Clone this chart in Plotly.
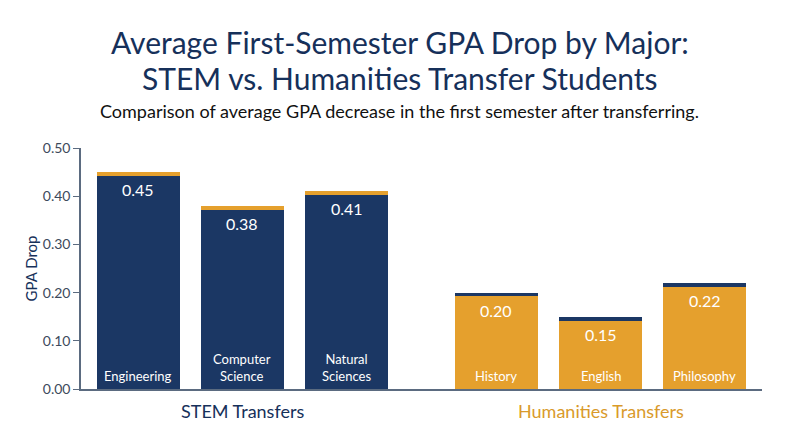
import plotly.graph_objects as go

# DATA
stem_majors = ["Engineering", "Computer<br>Science", "Natural<br>Sciences"]
stem_drop = [0.45, 0.38, 0.41]
hum_majors = ["History", "English", "Philosophy"]
hum_drop = [0.20, 0.15, 0.22]
stem_pos = [0, 1, 2]
hum_pos = [3.44, 4.44, 5.44]
y_ticks = [0.0, 0.1, 0.2, 0.3, 0.4, 0.5]

NAVY = "#1b3764"
ORANGE = "#e5a02d"
TEXT = "#16305a"
CAP = 0.008
FONT = "Lato"
PAGE_MID = 0.468  # page centre in paper coords

fig = go.Figure()

# main bars
fig.add_trace(go.Bar(
    x=stem_pos, y=[v - CAP for v in stem_drop], width=0.8,
    marker=dict(color=NAVY, line=dict(width=0)), hoverinfo="skip"
))
fig.add_trace(go.Bar(
    x=hum_pos, y=[v - CAP for v in hum_drop], width=0.8,
    marker=dict(color=ORANGE, line=dict(width=0)), hoverinfo="skip"
))

# thin contrasting caps on top
fig.add_trace(go.Bar(
    x=stem_pos, y=[CAP] * 3, base=[v - CAP for v in stem_drop], width=0.8,
    marker=dict(color=ORANGE, line=dict(width=0)), hoverinfo="skip"
))
fig.add_trace(go.Bar(
    x=hum_pos, y=[CAP] * 3, base=[v - CAP for v in hum_drop], width=0.8,
    marker=dict(color=NAVY, line=dict(width=0)), hoverinfo="skip"
))

# labels inside the bars
for xs, vals, names in [(stem_pos, stem_drop, stem_majors), (hum_pos, hum_drop, hum_majors)]:
    for x, v, n in zip(xs, vals, names):
        fig.add_annotation(x=x, y=v, text=f"{v:.2f}", showarrow=False,
                           yanchor="top", yshift=-6,
                           font=dict(family=FONT, size=16, color="white"))
        fig.add_annotation(x=x, y=0, text=n, showarrow=False,
                           yanchor="bottom", yshift=3,
                           font=dict(family=FONT, size=13, color="white"))

# group labels
fig.add_annotation(x=sum(stem_pos) / 3, yref="paper", y=-0.091, text="STEM Transfers",
                   showarrow=False, yanchor="middle",
                   font=dict(family=FONT, size=18, color=TEXT))
fig.add_annotation(x=sum(hum_pos) / 3, yref="paper", y=-0.091, text="Humanities Transfers",
                   showarrow=False, yanchor="middle",
                   font=dict(family=FONT, size=18, color="#d99a2b"))

# title (two lines) and subtitle
fig.add_annotation(xref="paper", yref="paper", x=PAGE_MID, y=1.44,
                   xanchor="center", yanchor="middle", showarrow=False,
                   text="Average First-Semester GPA Drop by Major:",
                   font=dict(family=FONT, size=30, color=TEXT))
fig.add_annotation(xref="paper", yref="paper", x=PAGE_MID, y=1.29,
                   xanchor="center", yanchor="middle", showarrow=False,
                   text="STEM vs. Humanities Transfer Students",
                   font=dict(family=FONT, size=30, color=TEXT))
fig.add_annotation(xref="paper", yref="paper", x=PAGE_MID, y=1.154,
                   xanchor="center", yanchor="middle", showarrow=False,
                   text="Comparison of average GPA decrease in the first semester after transferring.",
                   font=dict(family=FONT, size=18, color="#111111"))

fig.update_layout(
    width=800, height=447,
    margin=dict(l=73, r=46, t=140, b=66),
    barmode="overlay",
    showlegend=False,
    plot_bgcolor="white",
    paper_bgcolor="white",
    bargap=0,
    xaxis=dict(
        range=[-0.55, 5.99], showticklabels=False, ticks="",
        showgrid=False, zeroline=False,
        showline=True, linecolor="#5b6b80", linewidth=1.5
    ),
    yaxis=dict(
        range=[0, 0.5], tickvals=y_ticks, tickformat=".2f",
        ticks="outside", ticklen=6, tickcolor="#5b6b80",
        showgrid=False, zeroline=False,
        showline=True, linecolor="#5b6b80", linewidth=1.5,
        tickfont=dict(family=FONT, size=14, color="#3d4a5c"),
        title=dict(text="GPA Drop", standoff=2,
                   font=dict(family=FONT, size=15, color=TEXT))
    ),
)

fig.write_html("out.html")
